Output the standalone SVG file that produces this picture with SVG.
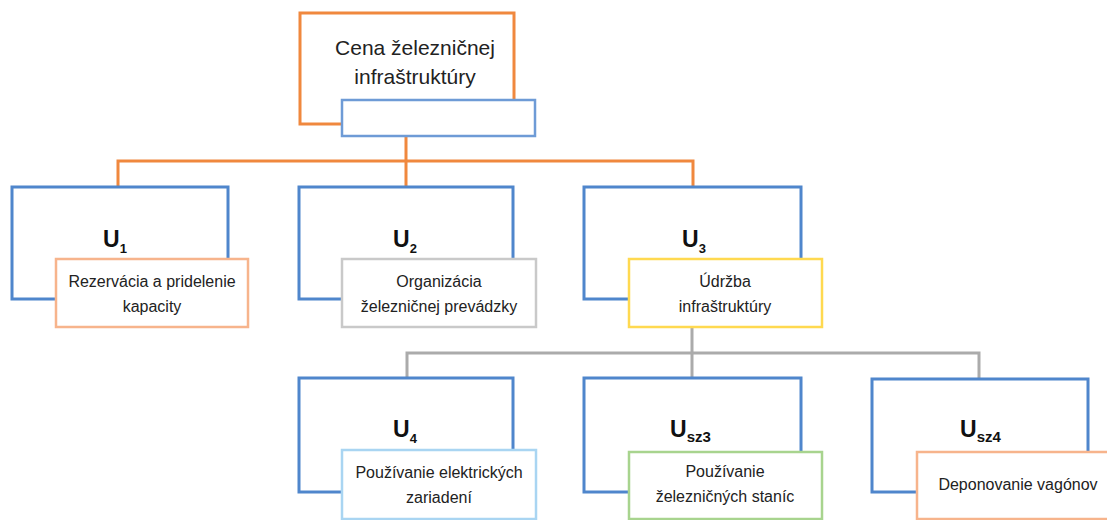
<svg xmlns="http://www.w3.org/2000/svg" width="1107" height="520" viewBox="0 0 1107 520">
<style>
.bg{fill:#fff}
.outer{fill:none;stroke:#4F86CC;stroke-width:3}
.inner{fill:#fff;stroke-width:2.5}
.t{font-family:"Liberation Sans",Arial,sans-serif;font-size:16px;fill:#222;text-anchor:middle}
.title{font-family:"Liberation Sans",Arial,sans-serif;font-size:21px;fill:#222;text-anchor:middle}
.u{font-family:"Liberation Sans",Arial,sans-serif;font-size:23px;font-weight:bold;fill:#111}
.sub{font-size:13px}
.subs{font-size:15px}
.conn-o{fill:none;stroke:#F0883E;stroke-width:3}
.conn-g{fill:none;stroke:#ABABAB;stroke-width:3}
</style>
<rect class="bg" x="0" y="0" width="1107" height="520"/>
<g id="connectors">
<path class="conn-o" d="M406 136 V186 M118 186 V161 H693 V186"/>
<path class="conn-g" d="M692 327 V378 M407 378 V353 H979 V378"/>
</g>
<g id="root">
<rect x="300" y="13" width="214" height="111" fill="#fff" stroke="#F0883E" stroke-width="3"/>
<text class="title" x="415" y="55">Cena železničnej</text>
<text class="title" x="415" y="84">infraštruktúry</text>
<rect x="342" y="100" width="193" height="36" fill="#fff" stroke="#6E9BD6" stroke-width="2.5"/>
</g>
<g id="u1">
<rect class="outer" x="12" y="187" width="216" height="112"/>
<text class="u" x="103" y="247">U<tspan class="sub" dy="6">1</tspan></text>
<rect class="inner" x="56" y="259" width="192" height="68" stroke="#F7B48C"/>
<text class="t" x="152" y="287">Rezervácia a pridelenie</text>
<text class="t" x="152" y="312">kapacity</text>
</g>
<g id="u2">
<rect class="outer" x="299" y="187" width="214" height="112"/>
<text class="u" x="393" y="247">U<tspan class="sub" dy="6">2</tspan></text>
<rect class="inner" x="342" y="259" width="194" height="68" stroke="#C9C9C9"/>
<text class="t" x="439" y="287">Organizácia</text>
<text class="t" x="439" y="312">železničnej prevádzky</text>
</g>
<g id="u3">
<rect class="outer" x="584" y="187" width="217" height="112"/>
<text class="u" x="682" y="247">U<tspan class="sub" dy="6">3</tspan></text>
<rect class="inner" x="629" y="259" width="193" height="68" stroke="#FFD950"/>
<text class="t" x="725" y="287">Údržba</text>
<text class="t" x="725" y="312">infraštruktúry</text>
</g>
<g id="u4">
<rect class="outer" x="299" y="378" width="214" height="114"/>
<text class="u" x="393" y="437">U<tspan class="sub" dy="6">4</tspan></text>
<rect class="inner" x="342" y="450" width="194" height="69" stroke="#A9D5F2"/>
<text class="t" x="439" y="478">Používanie elektrických</text>
<text class="t" x="439" y="503">zariadení</text>
</g>
<g id="usz3">
<rect class="outer" x="584" y="378" width="217" height="114"/>
<text class="u" x="670" y="437">U<tspan class="subs" dy="5">sz3</tspan></text>
<rect class="inner" x="629" y="452" width="193" height="67" stroke="#A8D48E"/>
<text class="t" x="725" y="477">Používanie</text>
<text class="t" x="725" y="502">železničných staníc</text>
</g>
<g id="usz4">
<rect class="outer" x="872" y="379" width="216" height="113"/>
<text class="u" x="960" y="437">U<tspan class="subs" dy="5">sz4</tspan></text>
<rect class="inner" x="917" y="452" width="195" height="67" stroke="#F7B48C"/>
<text class="t" x="1018" y="490">Deponovanie vagónov</text>
</g>
</svg>
